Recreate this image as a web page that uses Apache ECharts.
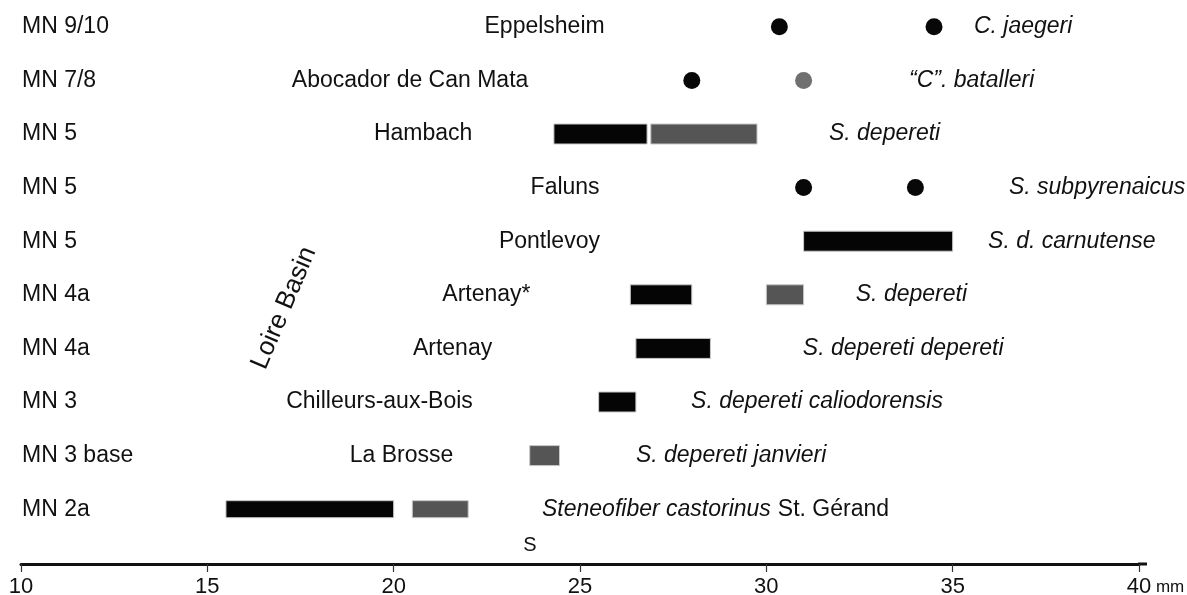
<!DOCTYPE html>
<html><head><meta charset="utf-8">
<script src="https://cdn.jsdelivr.net/npm/echarts@6/dist/echarts.min.js"></script>
<style>html,body{margin:0;padding:0;background:#fff}#c{width:1187px;height:595px}</style>
</head><body><div id="c"></div>
<script>
// ---- data ----
const mnZones = ['MN 9/10','MN 7/8','MN 5','MN 5','MN 5','MN 4a','MN 4a','MN 3','MN 3 base','MN 2a'];
const localities = ['Eppelsheim','Abocador de Can Mata','Hambach','Faluns','Pontlevoy','Artenay*','Artenay','Chilleurs-aux-Bois','La Brosse','St. Gérand'];
const taxa = ['C. jaegeri','\u201CC\u201D. batalleri','S. depereti','S. subpyrenaicus','S. d. carnutense','S. depereti','S. depereti depereti','S. depereti caliodorensis','S. depereti janvieri','Steneofiber castorinus'];
// ranges: [row, from (mm), to (mm)]
const blackRanges = [[2,24.3,26.8],[4,31.0,35.0],[5,26.35,28.0],[6,26.5,28.5],[7,25.5,26.5],[9,15.5,20.0]];
const greyRanges  = [[2,26.9,29.75],[5,30.0,31.0],[8,23.65,24.45],[9,20.5,22.0]];
// points: [row, value (mm)]
const blackPoints = [[0,30.35],[0,34.5],[1,28.0],[3,31.0],[3,34.0]];
const greyPoints  = [[1,31.0]];
const xTicks = [10,15,20,25,30,35,40];
const xUnit = 'mm';
const regionLabel = 'Loire Basin';
const sLabel = 'S';

// ---- layout (annotation anchors, in axis units) ----
const localityAnchor = [24.05, 20.44, 20.79, 24.6, 24.18, 22.49, 21.58, 19.62, 20.21, 31.8];
const taxonAnchor    = [35.57, 33.83, 31.68, 36.51, 35.95, 32.4, 30.98, 27.98, 26.5, 23.98];

const FONT = '"Liberation Sans", Arial, Helvetica, sans-serif';
const chart = echarts.init(document.getElementById('c'), null, {renderer:'canvas'});

function rangeSeries(data, color){
  return {
    type:'custom',
    data: data.map(d => [d[0], d[1], d[2]]),
    encode:{x:[1,2], y:0},
    renderItem(params, api){
      const row = api.value(0);
      const p1 = api.coord([api.value(1), row]);
      const p2 = api.coord([api.value(2), row]);
      const h = row === 9 ? 17 : 20;
      return {type:'rect', shape:{x:p1[0], y:p1[1]-h/2, width:p2[0]-p1[0], height:h},
        style:{fill:color, stroke:'#c8c8c8', lineWidth:1}};
    },
    silent:true, z:3
  };
}

const option = {
  animation:false,
  backgroundColor:'#fff',
  grid:{left:21, right:48, top:0, height:536, containLabel:false, outerBoundsMode:'none'},
  xAxis:{
    type:'value', min:xTicks[0], max:xTicks[xTicks.length-1], interval:xTicks[1]-xTicks[0],
    position:'bottom', offset:28,
    axisLine:{show:true, lineStyle:{color:'#111', width:3}},
    axisTick:{show:true, length:8, lineStyle:{color:'#333', width:1.2}},
    splitLine:{show:false},
    axisLabel:{
      color:'#111', fontSize:22, fontFamily:FONT, margin:12,
      formatter: v => v === xTicks[xTicks.length-1] ? '{p|}' + v + '{u| ' + xUnit + '}' : String(v),
      rich:{p:{width:33}, u:{fontSize:17, fontFamily:FONT, color:'#111'}}
    }
  },
  yAxis:{
    type:'category', inverse:true, data:localities,
    axisLine:{show:false}, axisTick:{show:false}, splitLine:{show:false},
    axisLabel:{inside:true, margin:1, color:'#111', fontSize:23, fontFamily:FONT,
      formatter:(v, i) => mnZones[i]}
  },
  graphic:[
    {type:'text', x:284, y:308, rotation:67*Math.PI/180,
      style:{text:regionLabel, font:'26px ' + FONT, fill:'#111', align:'center', verticalAlign:'middle'}},
    {type:'text', x:530, y:545,
      style:{text:sLabel, font:'20px ' + FONT, fill:'#111', align:'center', verticalAlign:'middle'}},
    {type:'line', shape:{x1:1138, y1:564, x2:1147, y2:564}, style:{stroke:'#111', lineWidth:3}}
  ],
  series:[
    rangeSeries(blackRanges, '#050505'),
    rangeSeries(greyRanges, '#555555'),
    {type:'scatter', data:blackPoints.map(p => [p[1], p[0]]), symbolSize:17,
      itemStyle:{color:'#080808', opacity:1}, silent:true, z:4},
    {type:'scatter', data:greyPoints.map(p => [p[1], p[0]]), symbolSize:17,
      itemStyle:{color:'#707070', opacity:1}, silent:true, z:4},
    {type:'scatter', symbolSize:0, silent:true, z:5, itemStyle:{opacity:1},
      data: localities.map((n, i) => ({value:[localityAnchor[i], i], name:n})),
      label:{show:true, position:'inside', formatter:p => p.name, color:'#111', fontSize:23, fontFamily:FONT}},
    {type:'scatter', symbolSize:0, silent:true, z:5, itemStyle:{opacity:1},
      data: taxa.map((n, i) => ({value:[taxonAnchor[i], i], name:n})),
      label:{show:true, position:'right', distance:0, formatter:p => p.name, color:'#111', fontSize:23, fontStyle:'italic', fontFamily:FONT}}
  ]
};
chart.setOption(option);
</script>
</body></html>
